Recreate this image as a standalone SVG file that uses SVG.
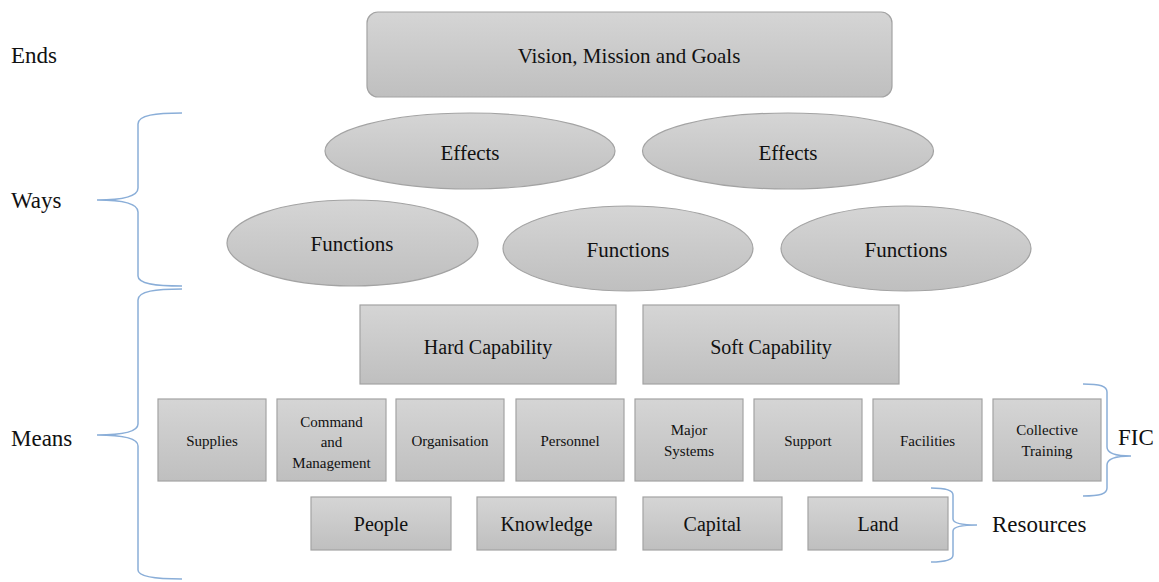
<svg xmlns="http://www.w3.org/2000/svg" width="1159" height="582" viewBox="0 0 1159 582">
<defs>
<linearGradient id="g" x1="0" y1="0" x2="0" y2="1">
<stop offset="0" stop-color="#d5d5d5"/>
<stop offset="1" stop-color="#bfbfbf"/>
</linearGradient>
<style>
text{font-family:'Liberation Serif','Times New Roman',serif;fill:#111}
.n{fill:url(#g);stroke:#a3a3a3;stroke-width:1.2}
.t{text-anchor:middle}
.s{font-size:15px}
.m{font-size:20px}
.l{font-size:21px}
.side{font-size:23px}
.br{fill:none;stroke:#8aaed8;stroke-width:1.5}
</style>
</defs>
<rect width="1159" height="582" fill="#fff"/>
<text class="side" x="11" y="63">Ends</text>
<text class="side" x="11" y="208">Ways</text>
<text class="side" x="11" y="446">Means</text>
<text class="side" x="1118" y="445">FIC</text>
<text class="side" x="992" y="532">Resources</text>
<g id="connectors">
<path class="br" d="M182 113 C156 113 138 115 138 124 L138 188 C138 196 126 200 97 200 C126 200 138 204 138 212 L138 276 C138 284 156 286 182 286"/>
<path class="br" d="M182 289 C156 289 138 291 138 300 L138 424 C138 431 126 435 97 435 C126 435 138 439 138 446 L138 570 C138 577 156 579 182 579"/>
<path class="br" d="M1083 384 C1100 384 1107 386 1107 392 L1107 447 C1107 453 1115 456 1131 456 C1115 456 1107 459 1107 465 L1107 488 C1107 494 1100 496 1083 496"/>
<path class="br" d="M931 488 C946 488 953 490 953 495 L953 519 C953 523 960 525 977 525 C960 525 953 527 953 531 L953 555 C953 560 946 562 931 562"/>
</g>
<g id="vision"><rect class="n" x="367" y="12" width="525" height="85" rx="11"/><text class="t l" x="629" y="63">Vision, Mission and Goals</text></g>
<g id="effects1"><ellipse class="n" cx="470" cy="151" rx="145" ry="38"/><text class="t l" x="470" y="160">Effects</text></g>
<g id="effects2"><ellipse class="n" cx="788" cy="151" rx="145.5" ry="38"/><text class="t l" x="788" y="160">Effects</text></g>
<g id="functions1"><ellipse class="n" cx="352.5" cy="243" rx="125.5" ry="43"/><text class="t l" x="352" y="251">Functions</text></g>
<g id="functions2"><ellipse class="n" cx="628" cy="248.5" rx="125" ry="42.5"/><text class="t l" x="628" y="257">Functions</text></g>
<g id="functions3"><ellipse class="n" cx="906" cy="248.5" rx="125" ry="42.5"/><text class="t l" x="906" y="257">Functions</text></g>
<g id="hard"><rect class="n" x="360" y="305" width="256" height="79"/><text class="t m" x="488" y="354">Hard Capability</text></g>
<g id="soft"><rect class="n" x="643" y="305" width="256" height="79"/><text class="t m" x="771" y="354">Soft Capability</text></g>
<g id="supplies"><rect class="n" x="158" y="399" width="108" height="82"/><text class="t s" x="212" y="446">Supplies</text></g>
<g id="command"><rect class="n" x="277" y="399" width="109" height="82"/><text class="t s" x="331.5" y="427">Command</text><text class="t s" x="331.5" y="447">and</text><text class="t s" x="331.5" y="468">Management</text></g>
<g id="organisation"><rect class="n" x="396" y="399" width="108" height="82"/><text class="t s" x="450" y="446">Organisation</text></g>
<g id="personnel"><rect class="n" x="516" y="399" width="108" height="82"/><text class="t s" x="570" y="446">Personnel</text></g>
<g id="major"><rect class="n" x="635" y="399" width="108" height="82"/><text class="t s" x="689" y="435">Major</text><text class="t s" x="689" y="456">Systems</text></g>
<g id="support"><rect class="n" x="754" y="399" width="108" height="82"/><text class="t s" x="808" y="446">Support</text></g>
<g id="facilities"><rect class="n" x="873" y="399" width="109" height="82"/><text class="t s" x="927.5" y="446">Facilities</text></g>
<g id="collective"><rect class="n" x="993" y="399" width="108" height="82"/><text class="t s" x="1047" y="435">Collective</text><text class="t s" x="1047" y="456">Training</text></g>
<g id="people"><rect class="n" x="311" y="497" width="140" height="53"/><text class="t m" x="381" y="531">People</text></g>
<g id="knowledge"><rect class="n" x="477" y="497" width="139" height="53"/><text class="t m" x="546.5" y="531">Knowledge</text></g>
<g id="capital"><rect class="n" x="643" y="497" width="139" height="53"/><text class="t m" x="712.5" y="531">Capital</text></g>
<g id="land"><rect class="n" x="808" y="497" width="140" height="53"/><text class="t m" x="878" y="531">Land</text></g>
</svg>
